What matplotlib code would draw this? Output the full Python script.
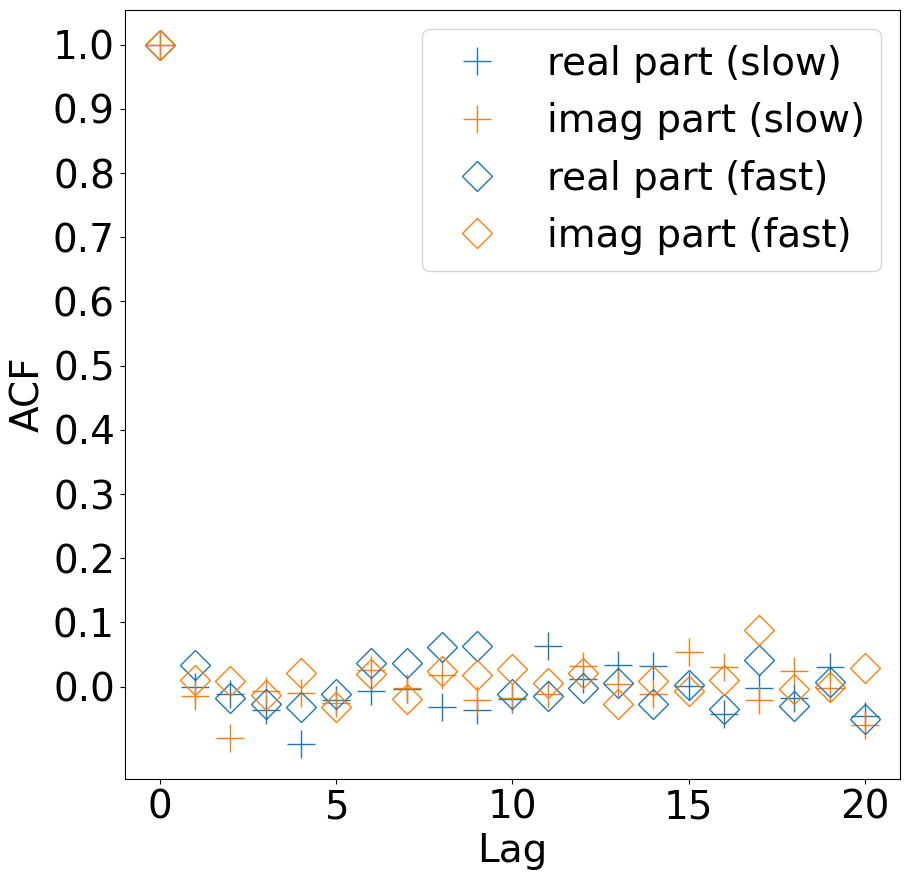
import numpy as np
import matplotlib
matplotlib.use("Agg")
import matplotlib.pyplot as plt

lags = np.arange(21)

real_slow = [1.0, 0.000, -0.012, -0.037, -0.089, -0.020, -0.007, -0.003, -0.032, -0.036, -0.019,
             0.063, 0.012, 0.034, 0.032, 0.001, -0.042, -0.002, -0.018, 0.030, -0.046]
imag_slow = [1.0, -0.015, -0.080, -0.007, -0.010, -0.026, 0.026, -0.002, 0.019, -0.020, -0.017,
             -0.012, 0.033, 0.004, -0.011, 0.054, 0.030, -0.021, 0.025, -0.002, -0.060]
real_fast = [1.0, 0.034, -0.018, -0.027, -0.032, -0.011, 0.037, 0.037, 0.062, 0.063, -0.011,
             -0.015, -0.002, 0.006, -0.027, 0.003, -0.034, 0.041, -0.030, 0.008, -0.051]
imag_fast = [1.0, 0.011, 0.009, -0.013, 0.022, -0.032, 0.020, -0.019, 0.025, 0.019, 0.028,
             0.005, 0.022, -0.027, 0.009, -0.007, 0.010, 0.088, -0.003, 0.000, 0.029]

plt.rcParams["font.size"] = 28

fig, ax = plt.subplots(figsize=(9.1, 8.81), dpi=100)
ax.plot(lags, real_slow, "+", color="C0", ms=20, label="real part (slow)")
ax.plot(lags, imag_slow, "+", color="C1", ms=20, label="imag part (slow)")
ax.plot(lags, real_fast, "D", color="C0", ms=15, mfc="none", label="real part (fast)")
ax.plot(lags, imag_fast, "D", color="C1", ms=15, mfc="none", label="imag part (fast)")
ax.set_yticks(np.arange(0, 1.01, 0.1))
ax.set_xlabel("Lag")
ax.set_ylabel("ACF")
ax.legend(loc="upper right")
fig.subplots_adjust(left=0.137, right=0.989, top=0.989, bottom=0.116)
fig.savefig("out.png", dpi=100)
